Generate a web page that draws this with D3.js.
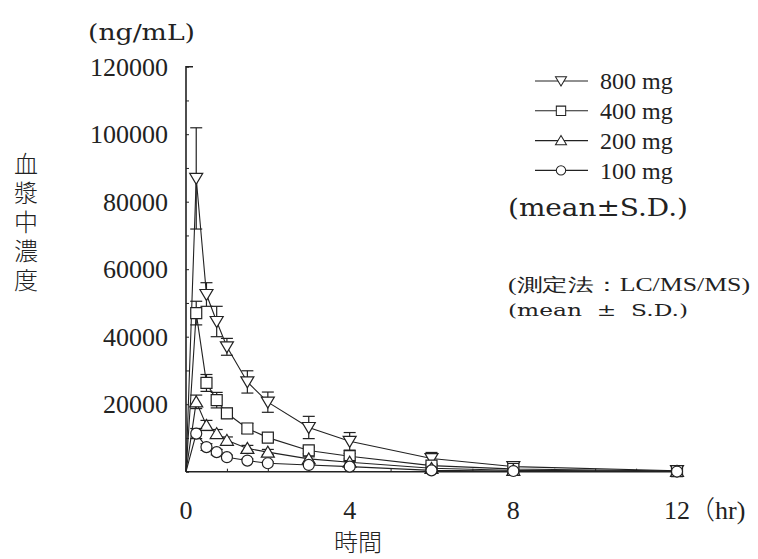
<!DOCTYPE html>
<html><head><meta charset="utf-8">
<script src="https://cdn.jsdelivr.net/npm/d3@7"></script>
<style>body{margin:0;background:#fff}svg{display:block}</style>
</head><body>
<script>
// ---- data ----
const times = [0, 0.25, 0.5, 0.75, 1, 1.5, 2, 3, 4, 6, 8, 12];
const mean800 = [0, 86900, 52500, 44500, 37000, 26600, 20600, 13100, 9000, 3900, 1500, 300];
const sd800   = [0, 15000, 3500, 4500, 2500, 3300, 3000, 3300, 2600, 1800, 500, 100];
const mean400 = [0, 47000, 26300, 21200, 17300, 12800, 10100, 6300, 4600, 1800, 800, 200];
const sd400   = [0, 3500, 2500, 2300, 1500, 1500, 1000, 1000, 800, 500, 300, 50];
const mean200 = [0, 20700, 13700, 11300, 9300, 6900, 5800, 3800, 2800, 1000, 400, 100];
const sd200   = [0, 2000, 1500, 1200, 1000, 900, 800, 600, 500, 300, 100, 20];
const mean100 = [0, 11300, 7300, 5800, 4300, 3300, 2500, 2000, 1500, 400, 200, 50];
const sd100   = [0, 1500, 1000, 800, 600, 500, 400, 400, 300, 150, 50, 10];
const seriesNames = ["800 mg", "400 mg", "200 mg", "100 mg"];
const xTickLabels = ["0", "4", "8", "12"];
const yTickLabels = ["20000", "40000", "60000", "80000", "100000", "120000"];

const W = 758, H = 559;
const svg = d3.select("body").append("svg").attr("width", W).attr("height", H);
const serif = "'Liberation Serif','DejaVu Serif',serif";
const century = "'DejaVu Serif','Liberation Serif',serif";
const cjk = "'Noto Sans CJK JP'";
const ink = "#222";

const x = d3.scaleLinear().domain([0, 12]).range([186, 677]);
const y = d3.scaleLinear().domain([0, 120000]).range([471.7, 66.7]);

const series = [
  {name: seriesNames[0], mean: mean800, sd: sd800, shape: "down"},
  {name: seriesNames[1], mean: mean400, sd: sd400, shape: "square"},
  {name: seriesNames[2], mean: mean200, sd: sd200, shape: "up"},
  {name: seriesNames[3], mean: mean100, sd: sd100, shape: "circle"}
];

// axes
const gx = svg.append("g").attr("transform", `translate(0,${y(0)})`)
  .call(d3.axisBottom(x).tickValues(d3.range(0, 13, 1)).tickSize(-3).tickFormat(""));
gx.select(".domain").attr("d", `M${x(0)},0H${x(12)+3}`).attr("stroke", ink).attr("stroke-width", 1.6);
gx.selectAll(".tick line").attr("stroke", ink);

const gy = svg.append("g").attr("transform", `translate(${x(0)},0)`)
  .call(d3.axisLeft(y).tickValues(d3.range(0, 120001, 10000)).tickSize(-3).tickFormat(""));
gy.select(".domain").attr("d", `M7,${y(120000)}H0V${y(0)}`).attr("stroke", ink).attr("stroke-width", 1.6);
gy.selectAll(".tick line").attr("stroke", ink);

// tick labels
svg.append("g").selectAll("text").data(yTickLabels).join("text")
  .attr("x", 168).attr("y", d => y(+d)).attr("dy", "0.35em")
  .attr("text-anchor", "end").attr("font-family", serif).attr("font-size", 26).attr("fill", ink)
  .text(d => d);
svg.append("g").selectAll("text").data(xTickLabels).join("text")
  .attr("x", d => x(+d)).attr("y", 519).attr("text-anchor", "middle")
  .attr("font-family", serif).attr("font-size", 26).attr("fill", ink).text(d => d);
const hr = svg.append("text").attr("x", x(12) + 12).attr("y", 519).attr("font-size", 26).attr("fill", ink);
hr.append("tspan").attr("font-family", cjk).attr("font-weight", 300).text("（");
hr.append("tspan").attr("font-family", serif).text("hr)");

svg.append("text").attr("x", 88).attr("y", 40).attr("font-family", century)
  .attr("font-size", 23).attr("fill", ink).attr("textLength", 107).attr("lengthAdjust", "spacingAndGlyphs")
  .text("(ng/mL)");

// axis titles
svg.append("text").attr("x", 358).attr("y", 551).attr("text-anchor", "middle")
  .attr("font-family", cjk).attr("font-weight", 300).attr("font-size", 24)
  .attr("fill", ink).text("時間");
svg.append("text").attr("x", 26).attr("y", 152)
  .attr("writing-mode", "vertical-rl").style("writing-mode", "vertical-rl")
  .attr("font-family", cjk).attr("font-weight", 300).attr("font-size", 24)
  .attr("letter-spacing", 5).attr("fill", ink).text("血漿中濃度");

// marker path generator
function marker(shape) {
  if (shape === "down") return "M-6.5,-5L6.5,-5L0,6Z";
  if (shape === "up") return "M-6.5,5L6.5,5L0,-6Z";
  if (shape === "square") return "M-5.5,-5.5H5.5V5.5H-5.5Z";
  return d3.symbol(d3.symbolCircle, 95)();
}

const line = d3.line().x(d => x(d.t)).y(d => y(d.v));

series.forEach(s => {
  const pts = times.map((t, i) => ({t, v: s.mean[i], sd: s.sd[i]}));
  const g = svg.append("g");
  const eb = pts.filter(p => p.sd > 0);
  g.selectAll("line.eb").data(eb).join("line")
    .attr("x1", p => x(p.t)).attr("x2", p => x(p.t))
    .attr("y1", p => y(p.v + p.sd)).attr("y2", p => y(Math.max(0, p.v - p.sd)))
    .attr("stroke", ink).attr("stroke-width", 1.2);
  g.selectAll("line.capt").data(eb).join("line")
    .attr("x1", p => x(p.t) - 6).attr("x2", p => x(p.t) + 6)
    .attr("y1", p => y(p.v + p.sd)).attr("y2", p => y(p.v + p.sd))
    .attr("stroke", ink).attr("stroke-width", 1.2);
  g.selectAll("line.capb").data(eb.filter(p => p.sd > 600)).join("line")
    .attr("x1", p => x(p.t) - 6).attr("x2", p => x(p.t) + 6)
    .attr("y1", p => y(p.v - p.sd)).attr("y2", p => y(p.v - p.sd))
    .attr("stroke", ink).attr("stroke-width", 1.2);
  g.append("path").attr("d", line(pts)).attr("fill", "none").attr("stroke", ink).attr("stroke-width", 1.1);
  g.selectAll("path.m").data(pts.slice(1)).join("path")
    .attr("transform", p => `translate(${x(p.t)},${y(p.v)})`)
    .attr("d", marker(s.shape)).attr("fill", "#fff").attr("stroke", ink).attr("stroke-width", 1.2);
});

// legend
const lg = svg.append("g");
series.forEach((s, i) => {
  const yy = 81 + i * 29.8;
  lg.append("line").attr("x1", 535).attr("x2", 588).attr("y1", yy).attr("y2", yy)
    .attr("stroke", ink).attr("stroke-width", 1.1);
  lg.append("path").attr("transform", `translate(561,${yy}) scale(0.85)`).attr("d", marker(s.shape))
    .attr("fill", "#fff").attr("stroke", ink).attr("stroke-width", 1.2);
  lg.append("text").attr("x", 600).attr("y", yy).attr("dy", "0.35em").attr("font-family", serif)
    .attr("font-size", 24).attr("fill", ink).text(s.name);
});
lg.append("text").attr("x", 508).attr("y", 216).attr("font-family", century).attr("font-size", 24)
  .attr("fill", ink).attr("textLength", 180).attr("lengthAdjust", "spacingAndGlyphs")
  .text("(mean±S.D.)");

// annotation
svg.append("text").attr("x", 508).attr("y", 291).attr("font-family", serif).attr("font-size", 18)
  .attr("fill", ink).attr("textLength", 242).attr("lengthAdjust", "spacingAndGlyphs")
  .text("(測定法：LC/MS/MS)");
svg.append("text").attr("x", 508).attr("y", 316).attr("font-family", century).attr("font-size", 17)
  .attr("fill", ink).style("white-space", "pre").attr("textLength", 180).attr("lengthAdjust", "spacingAndGlyphs")
  .text("(mean  ±  S.D.)");
</script>
</body></html>
